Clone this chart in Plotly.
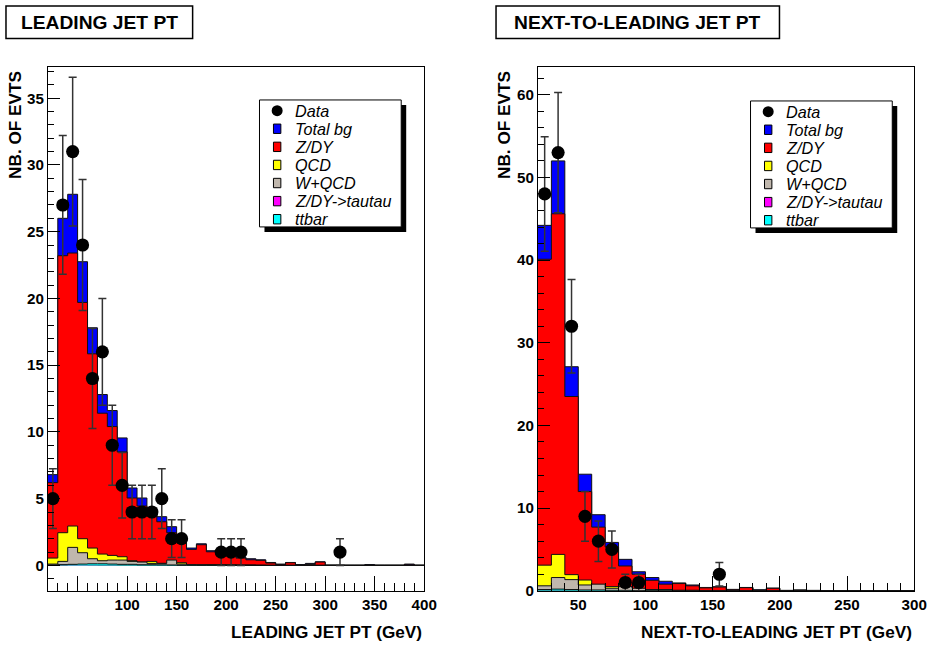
import math
import plotly.graph_objects as go

W, H = 933, 646
S = 0.988          # observed shrink of the photographed page; compensate positions/sizes

# ---------------- data ----------------
lead_edges = list(range(20, 410, 10))          # 38 bins, 20..400 GeV
lead_total = [6.8, 26.0, 27.8, 22.75, 17.8, 12.8, 11.6, 9.55, 5.8, 5.05, 4.1, 3.65, 2.9, 2.15,
              1.3, 1.62, 1.1, 1.1, 0.9, 0.62, 0.5, 0.42, 0.22, 0.1, 0.22, 0.06, 0.15, 0.27,
              0.03, 0.03, 0.02, 0.02, 0.06, 0.02, 0.02, 0.02, 0.1, 0.02]
lead_zdy = [6.2, 23.2, 23.4, 19.7, 15.85, 11.4, 10.4, 8.5, 5.05, 4.45, 3.75, 3.27, 2.45, 1.95,
            1.2, 1.55, 1.02, 1.0, 0.8, 0.55, 0.42, 0.38, 0.18, 0.06, 0.2, 0.03, 0.08, 0.25,
            0.0, 0.0, 0.0, 0.0, 0.02, 0.0, 0.0, 0.0, 0.05, 0.0]
lead_qcd = [0.55, 2.45, 2.95, 2.0, 1.3, 0.85, 0.75, 0.65, 0.35, 0.25, 0.3, 0.15, 0.1, 0.2,
            0.05, 0.03, 0.05, 0.05, 0.05, 0.03, 0.03, 0.02, 0, 0, 0, 0, 0, 0,
            0, 0, 0, 0, 0, 0, 0, 0, 0, 0]
lead_wqcd = [0.1, 0.3, 1.35, 0.95, 0.5, 0.35, 0.4, 0.4, 0.3, 0.25, 0.15, 0.15, 0.4, 0.1,
             0.05, 0.05, 0.03, 0.03, 0.02, 0.02, 0.02, 0, 0, 0, 0, 0, 0.05, 0,
             0, 0, 0, 0, 0, 0, 0, 0, 0, 0]
lead_tautau = [0.02, 0.05, 0.05, 0.05, 0.04, 0.03, 0.03, 0.02, 0.02, 0.01, 0.01, 0.01, 0, 0,
               0, 0, 0, 0, 0, 0, 0, 0, 0, 0, 0, 0, 0, 0, 0, 0, 0, 0, 0, 0, 0, 0, 0, 0]
lead_ttbar = [0.02, 0.05, 0.08, 0.1, 0.12, 0.12, 0.1, 0.08, 0.08, 0.05, 0.05, 0.04, 0.03, 0.02,
              0.02, 0.01, 0.01, 0.01, 0, 0, 0, 0, 0, 0, 0, 0, 0, 0, 0, 0, 0, 0, 0, 0, 0, 0, 0, 0]
lead_data = [5, 27, 31, 24, 14, 16, 9, 6, 4, 4, 4, 5, 2, 2, 0, 0, 0, 1, 1, 1, 0, 0, 0, 0, 0, 0,
             0, 0, 0, 1, 0, 0, 0, 0, 0, 0, 0, 0]

sub_edges = list(range(20, 310, 10))           # 28 bins, 20..300 GeV
sub_total = [44.2, 52.0, 27.1, 14.1, 9.2, 5.85, 3.8, 2.3, 1.6, 1.15, 0.95, 0.7, 0.4, 0.48,
             0.17, 0.4, 0.12, 0.32, 0.05, 0.1, 0.05, 0.03, 0.02, 0.02, 0.01, 0.01, 0.01, 0.01]
sub_zdy = [40.1, 45.6, 23.5, 12.0, 7.7, 5.3, 3.0, 2.0, 1.27, 0.8, 0.87, 0.6, 0.35, 0.45,
           0.12, 0.38, 0.08, 0.3, 0.03, 0.08, 0.03, 0.01, 0, 0, 0, 0, 0, 0]
sub_qcd = [3.1, 4.4, 1.95, 1.3, 0.4, 0.5, 0.2, 0.15, 0.1, 0.1, 0.05, 0.05, 0.02, 0.02,
           0, 0, 0, 0, 0, 0, 0, 0, 0, 0, 0, 0, 0, 0]
sub_wqcd = [0.6, 1.6, 1.35, 0.7, 0.8, 0.3, 0.5, 0.3, 0.15, 0.15, 0.05, 0.05, 0.03, 0.02,
            0.02, 0, 0, 0, 0, 0, 0, 0, 0, 0, 0, 0, 0, 0]
sub_tautau = [0.05, 0.06, 0.04, 0.03, 0.02, 0.01, 0.01, 0, 0, 0, 0, 0, 0, 0,
              0, 0, 0, 0, 0, 0, 0, 0, 0, 0, 0, 0, 0, 0]
sub_ttbar = [0.15, 0.2, 0.15, 0.1, 0.1, 0.05, 0.05, 0.03, 0.02, 0.02, 0.01, 0.01, 0, 0,
             0, 0, 0, 0, 0, 0, 0, 0, 0, 0, 0, 0, 0, 0]
sub_data = [48, 53, 32, 9, 6, 5, 1, 1, 0, 0, 0, 0, 0, 2, 0, 0, 0, 0, 0, 0, 0, 0, 0, 0, 0, 0, 0, 0]

legend_labels = ["Data", "Total bg", "Z/DY", "QCD", "W+QCD", "Z/DY-&gt;tautau", "ttbar"]
legend_colors = ["#000000", "#0000ff", "#ff0000", "#ffff00", "#c0b7ad", "#ff00ff", "#00ffff"]

FONT = "Liberation Sans, Arial, Helvetica, sans-serif"

fig = go.Figure()

def px_x(p):
    return p / (W * S)

def px_y(p):
    return 1 - p / (H * S)

def sz(v):
    return v / S

def add_panel(edges, comps, data, xa, ya):
    for vals, col in comps:
        fig.add_trace(go.Scatter(
            x=edges, y=list(vals) + [vals[-1]], mode="lines", line_shape="hv",
            fill="tozeroy", fillcolor=col, line=dict(color="#111111", width=1),
            xaxis=xa, yaxis=ya, showlegend=False, hoverinfo="skip"))
    cx = [(edges[i] + edges[i + 1]) / 2 for i in range(len(data)) if data[i] > 0]
    cy = [d for d in data if d > 0]
    fig.add_trace(go.Scatter(
        x=cx, y=cy, mode="markers",
        marker=dict(color="black", size=sz(13)),
        error_y=dict(type="data", array=[math.sqrt(v) for v in cy], color="#333333",
                     thickness=1.5, width=4),
        xaxis=xa, yaxis=ya, showlegend=False))

add_panel(lead_edges, [(lead_total, legend_colors[1]), (lead_zdy, legend_colors[2]),
                       (lead_qcd, legend_colors[3]), (lead_wqcd, legend_colors[4]),
                       (lead_tautau, legend_colors[5]), (lead_ttbar, legend_colors[6])],
          lead_data, "x", "y")
add_panel(sub_edges, [(sub_total, legend_colors[1]), (sub_zdy, legend_colors[2]),
                      (sub_qcd, legend_colors[3]), (sub_wqcd, legend_colors[4]),
                      (sub_tautau, legend_colors[5]), (sub_ttbar, legend_colors[6])],
          sub_data, "x2", "y2")

tickfont = dict(family=FONT, size=sz(15), color="black", weight="bold")

def xax(domain, rng, tv, tt):
    return dict(domain=domain, range=rng, showgrid=False, zeroline=False, showline=True,
                linecolor="black", linewidth=1, mirror=True, ticks="inside", ticklen=sz(15),
                tickwidth=1, tickcolor="black", tickvals=tv, ticktext=tt, tickfont=tickfont,
                minor=dict(ticks="inside", ticklen=sz(8), dtick=10, tick0=0, tickcolor="black",
                           tickwidth=1),
                fixedrange=True)

def yax(domain, rng, dt, mdt, anchor):
    return dict(domain=domain, range=rng, showgrid=False, zeroline=False, showline=True,
                linecolor="black", linewidth=1, mirror=True, ticks="inside", ticklen=sz(12),
                tickwidth=1, tickcolor="black", dtick=dt, tick0=0, tickfont=tickfont,
                minor=dict(ticks="inside", ticklen=sz(6), dtick=mdt, tick0=0, tickcolor="black",
                           tickwidth=1),
                anchor=anchor, fixedrange=True)

ydom = [px_y(591), px_y(67.5)]
lead_tv = [50, 100, 150, 200, 250, 300, 350, 400]
lead_tt = ["", "100", "150", "200", "250", "300", "350", "400"]
sub_tv = [50, 100, 150, 200, 250, 300]
sub_tt = [str(v) for v in sub_tv]

shapes = []
annotations = []

# title boxes
def title_box(x0, x1, text):
    shapes.append(dict(type="rect", xref="paper", yref="paper", x0=px_x(x0), x1=px_x(x1),
                       y0=px_y(38.5), y1=px_y(6), line=dict(color="black", width=1.5),
                       fillcolor="white", layer="above"))
    annotations.append(dict(xref="paper", yref="paper", x=px_x((x0 + x1) / 2), y=px_y(22.5),
                            text="<b>%s</b>" % text, showarrow=False, xanchor="center",
                            yanchor="middle",
                            font=dict(family=FONT, size=sz(19), color="black")))

title_box(6, 193, "LEADING JET PT")
title_box(497, 781, "NEXT-TO-LEADING JET PT")

# axis titles
for xr, xt in [(425, "LEADING JET PT (GeV)"), (916, "NEXT-TO-LEADING JET PT (GeV)")]:
    annotations.append(dict(xref="paper", yref="paper", x=px_x(xr), y=px_y(632),
                            text="<b>%s</b>" % xt, showarrow=False, xanchor="right",
                            yanchor="middle", font=dict(family=FONT, size=sz(17), color="black")))
for xc in [15, 505]:
    annotations.append(dict(xref="paper", yref="paper", x=px_x(xc), y=px_y(69),
                            text="<b>NB. OF EVTS</b>", showarrow=False, textangle=-90,
                            xanchor="center", yanchor="top",
                            font=dict(family=FONT, size=sz(17), color="black")))

# legends
def legend(x0, y0):
    w, h = 142, 127
    shapes.append(dict(type="rect", xref="paper", yref="paper", x0=px_x(x0 + 5), x1=px_x(x0 + w + 5),
                       y0=px_y(y0 + h + 5), y1=px_y(y0 + 5), line=dict(width=0),
                       fillcolor="black", layer="above"))
    shapes.append(dict(type="rect", xref="paper", yref="paper", x0=px_x(x0), x1=px_x(x0 + w),
                       y0=px_y(y0 + h), y1=px_y(y0), line=dict(color="black", width=1),
                       fillcolor="white", layer="above"))
    for k, (lab, col) in enumerate(zip(legend_labels, legend_colors)):
        cy = y0 + 10.7 + 18.1 * k
        mx = x0 + 17.7
        if k == 0:
            shapes.append(dict(type="circle", xref="paper", yref="paper",
                               x0=px_x(mx - 5.5), x1=px_x(mx + 5.5),
                               y0=px_y(cy + 5.5), y1=px_y(cy - 5.5),
                               line=dict(width=0), fillcolor="black", layer="above"))
        else:
            shapes.append(dict(type="rect", xref="paper", yref="paper",
                               x0=px_x(mx - 3.7), x1=px_x(mx + 3.7),
                               y0=px_y(cy + 4.7), y1=px_y(cy - 4.7),
                               line=dict(color="black", width=1), fillcolor=col, layer="above"))
        annotations.append(dict(xref="paper", yref="paper", x=px_x(x0 + 34), y=px_y(cy),
                                text="<i>%s</i>" % lab, showarrow=False, xanchor="left",
                                yanchor="middle",
                                font=dict(family=FONT, size=sz(16), color="black")))

legend(260, 100)
legend(752, 101)

fig.update_layout(
    width=W, height=H, margin=dict(l=0, r=0, t=0, b=0),
    paper_bgcolor="white", plot_bgcolor="white", showlegend=False,
    xaxis=xax([px_x(48), px_x(425)], [20, 400], lead_tv, lead_tt) | dict(anchor="y"),
    yaxis=yax(ydom, [-1.9, 37.3], 5, 1, "x"),
    xaxis2=xax([px_x(539), px_x(916)], [20, 300], sub_tv, sub_tt) | dict(anchor="y2"),
    yaxis2=yax(ydom, [0, 63.3], 10, 2, "x2"),
    shapes=shapes, annotations=annotations,
)

post = ("document.documentElement.style.margin='0';"
        "document.documentElement.style.overflow='hidden';"
        "document.body.style.margin='0';"
        "document.body.style.overflow='hidden';")

fig.write_html("out.html", config={"displayModeBar": False}, post_script=post)
